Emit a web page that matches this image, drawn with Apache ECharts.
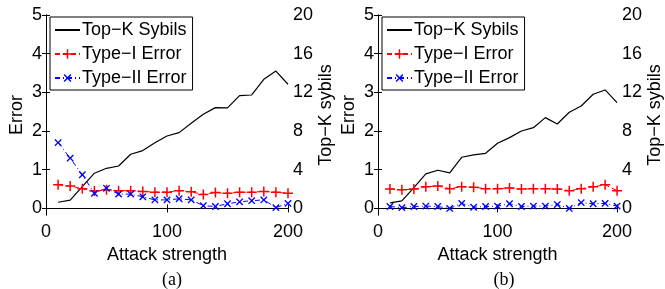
<!DOCTYPE html>
<html>
<head>
<meta charset="utf-8">
<script src="https://cdn.jsdelivr.net/npm/echarts@6/dist/echarts.min.js"></script>
<style>
  html, body { margin: 0; padding: 0; background: #fff; }
  #chart { width: 665px; height: 289px; }
</style>
</head>
<body>
<div id="chart"></div>
<script>
// attack strength (x)
const attack = [10, 20, 30, 40, 50, 60, 70, 80, 90, 100, 110, 120, 130, 140, 150, 160, 170, 180, 190, 200];

// (a)
const topkA = [0.64, 0.85, 2.25, 3.64, 4.15, 4.39, 5.6, 5.98, 6.8, 7.49, 7.84, 8.8, 9.73, 10.42, 10.39, 11.66, 11.73, 13.35, 14.2, 12.84];
const type1A = [0.61, 0.58, 0.51, 0.45, 0.48, 0.46, 0.46, 0.44, 0.42, 0.42, 0.46, 0.43, 0.36, 0.41, 0.39, 0.42, 0.42, 0.44, 0.42, 0.39];
const type2A = [1.70, 1.30, 0.87, 0.39, 0.52, 0.37, 0.37, 0.30, 0.22, 0.22, 0.25, 0.22, 0.07, 0.05, 0.12, 0.17, 0.20, 0.22, 0.02, 0.13];

// (b)
const topkB = [0.57, 0.78, 2.15, 3.57, 3.95, 3.67, 5.29, 5.53, 5.7, 6.74, 7.32, 8.01, 8.35, 9.39, 8.73, 9.94, 10.59, 11.8, 12.25, 10.94];
const type1B = [0.50, 0.48, 0.50, 0.56, 0.58, 0.51, 0.56, 0.55, 0.51, 0.51, 0.53, 0.50, 0.51, 0.51, 0.50, 0.46, 0.51, 0.56, 0.61, 0.46];
const type2B = [0.05, 0.02, 0.05, 0.06, 0.05, 0.00, 0.13, 0.03, 0.05, 0.06, 0.12, 0.05, 0.06, 0.06, 0.10, 0.00, 0.15, 0.12, 0.13, 0.06];

const errorTicks = [0, 1, 2, 3, 4, 5];
const topkTicks = [0, 4, 8, 12, 16, 20];
const panelLabels = ["(a)", "(b)"];

const font = "Liberation Sans, Arial, Helvetica, sans-serif";
const black = "#000";
const plusPath = "path://M4.25,0h1.5v4.25h4.25v1.5h-4.25v4.25h-1.5v-4.25h-4.25v-1.5h4.25z";

const chart = echarts.init(document.getElementById("chart"), null, { renderer: "canvas" });

const pair = (ys) => attack.map((x, i) => [x, ys[i]]);

const gridLefts = [46, 378];

function axesFor(g) {
    const xs = [
        {
            type: "value", gridIndex: g, min: 0, max: 200, interval: 100,
            name: "Attack strength", nameLocation: "middle", nameGap: 26,
            nameTextStyle: { fontFamily: font, fontSize: 18, color: black },
            axisLine: { show: true, lineStyle: { color: black, width: 1 } },
            axisTick: { inside: true, length: 4, lineStyle: { color: black } },
            axisLabel: { fontFamily: font, fontSize: 18, color: black, margin: 8 },
            splitLine: { show: false }
        },
        {
            type: "value", gridIndex: g, min: 0, max: 200, interval: 100, position: "top",
            axisLine: { show: true, lineStyle: { color: black, width: 1 } },
            axisTick: { inside: true, length: 4, lineStyle: { color: black } },
            axisLabel: { show: false },
            splitLine: { show: false }
        }
    ];
    const ys = [
        {
            type: "value", gridIndex: g, min: -0.17, max: 5, position: "left",
            name: "Error", nameLocation: "middle", nameGap: 20, nameRotate: 90,
            nameTextStyle: { fontFamily: font, fontSize: 18, color: black },
            axisLine: { show: true, lineStyle: { color: black, width: 1 } },
            axisTick: { inside: true, length: 4, customValues: errorTicks, lineStyle: { color: black } },
            axisLabel: { fontFamily: font, fontSize: 18, color: black, margin: 4, customValues: errorTicks },
            splitLine: { show: false }
        },
        {
            type: "value", gridIndex: g, min: -0.68, max: 20, position: "right",
            name: "Top−K sybils", nameLocation: "middle", nameGap: 26, nameRotate: 90,
            nameTextStyle: { fontFamily: font, fontSize: 18, color: black },
            axisLine: { show: true, lineStyle: { color: black, width: 1 } },
            axisTick: { inside: true, length: 4, customValues: topkTicks, lineStyle: { color: black } },
            axisLabel: { fontFamily: font, fontSize: 18, color: black, margin: 5, customValues: topkTicks },
            splitLine: { show: false }
        }
    ];
    return { xs, ys };
}

const a0 = axesFor(0), a1 = axesFor(1);

function seriesFor(g, topk, t1, t2) {
    return [
        {
            name: "Top−K Sybils", type: "line", xAxisIndex: g * 2, yAxisIndex: g * 2 + 1,
            data: pair(topk), symbol: "none",
            lineStyle: { color: black, width: 1.2 }, itemStyle: { color: black }
        },
        {
            name: "Type−I Error", type: "line", xAxisIndex: g * 2, yAxisIndex: g * 2,
            data: pair(t1), symbol: plusPath, symbolSize: 10,
            lineStyle: { color: "#ff0000", width: 1, type: [5, 3] },
            itemStyle: { color: "#ff0000" }
        },
        {
            name: "Type−II Error", type: "line", xAxisIndex: g * 2, yAxisIndex: g * 2,
            data: pair(t2), symbol: plusPath, symbolSize: 9, symbolRotate: 45,
            lineStyle: { color: "#0000ff", width: 1, type: [5, 3, 1, 3] },
            itemStyle: { color: "#0000ff" }
        }
    ];
}

function legendFor(g) {
    return {
        left: gridLefts[g] + 4, top: 17, orient: "vertical",
        data: [
            { name: "Top−K Sybils", itemStyle: { opacity: 0 } },
            "Type−I Error",
            "Type−II Error"
        ],
        itemWidth: 25, itemHeight: 12, itemGap: 6,
        padding: [4, 6, 3, 4],
        borderColor: black, borderWidth: 1, backgroundColor: "#fff",
        textStyle: { fontFamily: font, fontSize: 18, color: black, padding: [0, 0, 0, -3] },
        selectedMode: false
    };
}

chart.setOption({
    animation: false,
    backgroundColor: "#fff",
    grid: [
        { left: gridLefts[0], top: 15, width: 242, height: 200 },
        { left: gridLefts[1], top: 15, width: 242, height: 200 }
    ],
    title: panelLabels.map((t, g) => ({
        text: t, left: gridLefts[g] + 121, top: 266, textAlign: "center",
        textStyle: { fontFamily: "Liberation Serif, Times New Roman, serif", fontSize: 18, fontWeight: "normal", color: black }
    })),
    legend: [legendFor(0), legendFor(1)],
    xAxis: a0.xs.concat(a1.xs),
    yAxis: a0.ys.concat(a1.ys),
    series: seriesFor(0, topkA, type1A, type2A).concat(seriesFor(1, topkB, type1B, type2B))
});
</script>
</body>
</html>
